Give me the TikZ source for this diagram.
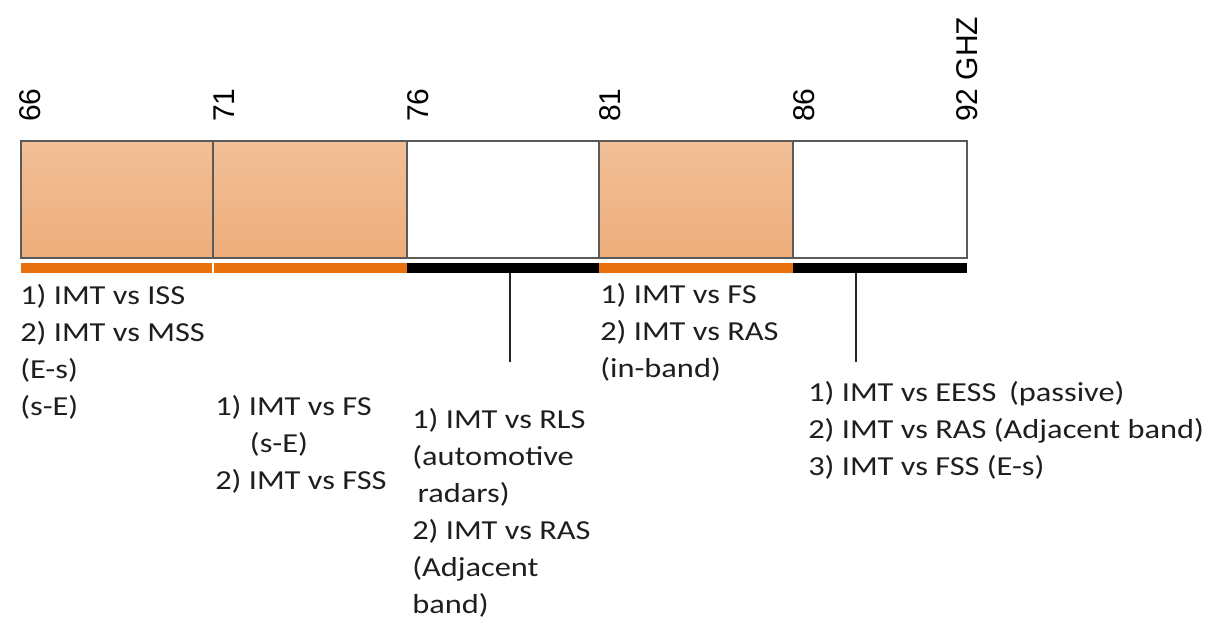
\documentclass[tikz,border=0pt]{standalone}
\usepackage{fontspec}
\newfontfamily\lblfont[FakeStretch=1.18]{Carlito}
\newfontfamily\tickfont{Liberation Sans}
\definecolor{bandtop}{HTML}{F2BF97}
\definecolor{bandbot}{HTML}{EDAD7B}
\definecolor{edgegray}{HTML}{5A5A5A}
\definecolor{barorange}{HTML}{E8710E}
\definecolor{txtgray}{HTML}{1E1E1E}
\tikzset{
  band/.style={draw=edgegray, line width=1.4pt},
  fullband/.style={band, top color=bandtop, bottom color=bandbot},
  freeband/.style={band, fill=white},
  tick/.style={font=\tickfont\fontsize{22.5}{27}\selectfont, rotate=90, anchor=base west, inner sep=0pt, text=black},
  notes/.style={font=\lblfont\fontsize{20.6}{27.75}\selectfont, align=left, anchor=north west, inner sep=0pt, text=txtgray},
  leader/.style={draw=black!85, line width=0.9pt}
}
\begin{document}
\begin{tikzpicture}[x=0.75pt, y=-0.75pt]
\useasboundingbox (0,0) rectangle (1210,630);
% frequency band blocks
\draw[fullband] (21,141) rectangle (213,258);
\draw[fullband] (213,141) rectangle (407,258);
\draw[freeband] (407,141) rectangle (599,258);
\draw[fullband] (599,141) rectangle (793,258);
\draw[freeband] (793,141) rectangle (967,258);
% band edge frequencies
\node[tick] (f66) at (40,122) {66};
\node[tick] (f71) at (234,122) {71};
\node[tick] (f76) at (428,122) {76};
\node[tick] (f81) at (620,122) {81};
\node[tick] (f86) at (814,122) {86};
\node[tick] (f92) at (977,122) {92 GHZ};
% coloured bar under the blocks
\fill[barorange] (21,263) rectangle (212,273);
\fill[barorange] (214,263) rectangle (407,273);
\fill[black] (407,263) rectangle (599,273);
\fill[barorange] (599,263) rectangle (793,273);
\fill[black] (793,263) rectangle (967,273);
\coordinate (barC) at (510,273);
\coordinate (barE) at (856,273);
\coordinate (endC) at (510,362);
\coordinate (endE) at (856,362);
\draw[leader] (barC) -- (endC);
\draw[leader] (barE) -- (endE);
% sharing studies per band
\node[notes] (nA) at (20,284) {1) IMT vs ISS\\2) IMT vs MSS\\(E-s)\\(s-E)};
\node[notes] (nB) at (215,395) {1) IMT vs FS\\\hspace*{26pt}(s-E)\\2) IMT vs FSS};
\node[notes] (nC) at (412,408) {1) IMT vs RLS\\(automotive\\\hspace*{4pt}radars)\\2) IMT vs RAS\\(Adjacent\\band)};
\node[notes] (nD) at (600,283) {1) IMT vs FS\\2) IMT vs RAS\\(in-band)};
\node[notes] (nE) at (808,381) {1) IMT vs EESS\hspace*{4pt} (passive)\\2) IMT vs RAS (Adjacent band)\\3) IMT vs FSS (E-s)};
\end{tikzpicture}
\end{document}
